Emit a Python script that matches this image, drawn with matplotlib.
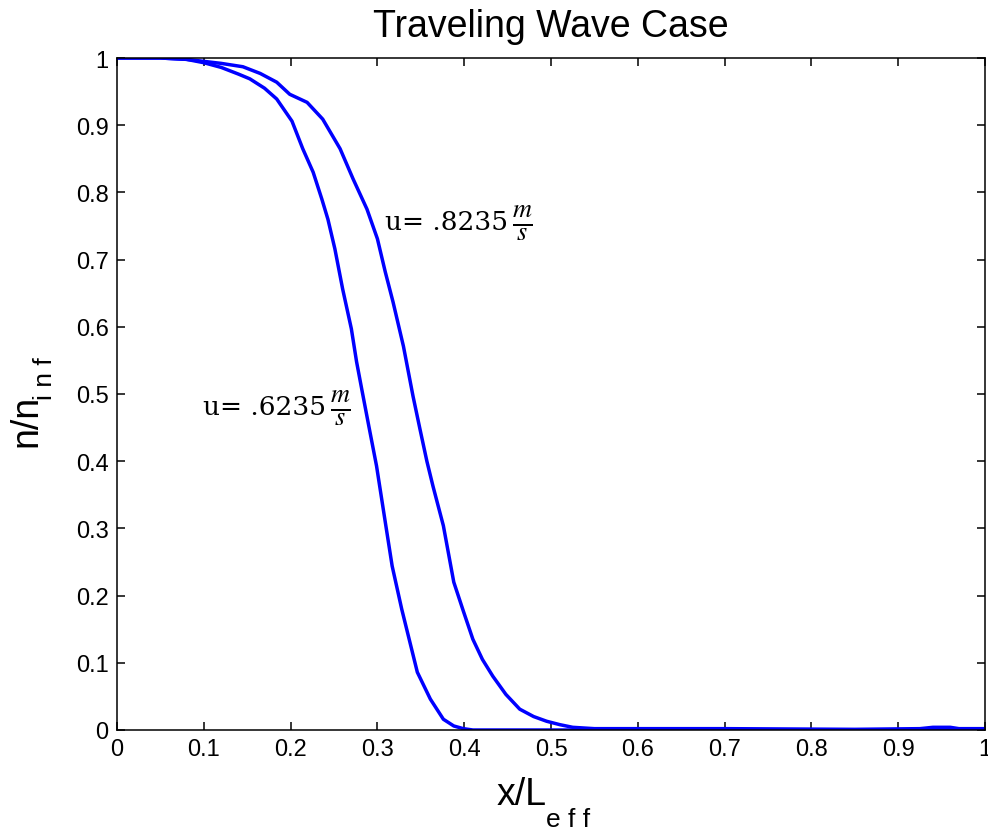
import matplotlib
matplotlib.use('Agg')
import matplotlib.pyplot as plt
from matplotlib.ticker import FuncFormatter, MultipleLocator

plt.rcParams['font.family'] = 'Liberation Sans'
plt.rcParams['mathtext.fontset'] = 'stix'

# u = .6235 m/s (left curve)
x_slow = [0, 0.05, 0.08, 0.1, 0.12, 0.14, 0.153, 0.17, 0.184, 0.2016, 0.214, 0.226,
          0.236, 0.243, 0.251, 0.260, 0.270, 0.276, 0.282, 0.290, 0.299, 0.309, 0.317,
          0.328, 0.337, 0.346, 0.361, 0.376, 0.388, 0.399, 0.41, 0.5, 0.6, 0.7, 0.8,
          0.9, 1.0]
y_slow = [1, 1, 0.998, 0.993, 0.986, 0.976, 0.969, 0.955, 0.939, 0.906, 0.865, 0.830,
          0.790, 0.760, 0.716, 0.656, 0.597, 0.548, 0.507, 0.453, 0.393, 0.31, 0.244,
          0.180, 0.133, 0.086, 0.046, 0.016, 0.006, 0.002, 0.0, 0.0, 0.0, 0.0, 0.0,
          0.0, 0.0]

# u = .8235 m/s (right curve)
x_fast = [0, 0.05, 0.08, 0.1, 0.12, 0.145, 0.165, 0.184, 0.199, 0.219, 0.237, 0.257,
          0.272, 0.288, 0.300, 0.309, 0.318, 0.330, 0.341, 0.349, 0.357, 0.364, 0.376,
          0.388, 0.399, 0.410, 0.421, 0.433, 0.448, 0.464, 0.48, 0.495, 0.51, 0.525,
          0.55, 0.7, 0.85, 0.925, 0.94, 0.96, 0.97, 1.0]
y_fast = [1, 1, 0.998, 0.995, 0.992, 0.987, 0.977, 0.964, 0.946, 0.934, 0.909, 0.865,
          0.820, 0.775, 0.731, 0.682, 0.637, 0.571, 0.497, 0.448, 0.40, 0.363, 0.304,
          0.220, 0.177, 0.135, 0.105, 0.080, 0.053, 0.031, 0.02, 0.013, 0.008, 0.004,
          0.002, 0.002, 0.001, 0.002, 0.004, 0.004, 0.002, 0.002]

label_slow = 'u= .6235'
label_fast = 'u= .8235'
unit = r'$\frac{m}{s}$'

W, H = 988, 829
fig = plt.figure(figsize=(W / 100, H / 100), dpi=100)
ax = fig.add_axes([117 / W, 1 - 731 / H, (985 - 117) / W, (731 - 59) / H])

ax.plot(x_slow, y_slow, color='#0000ff', lw=2.5)
ax.plot(x_fast, y_fast, color='#0000ff', lw=2.5)

ax.set_xlim(0, 1)
ax.set_ylim(0, 1)
ax.xaxis.set_major_locator(MultipleLocator(0.1))
ax.yaxis.set_major_locator(MultipleLocator(0.1))
fmt = FuncFormatter(lambda v, p: '%g' % round(v, 2))
ax.xaxis.set_major_formatter(fmt)
ax.yaxis.set_major_formatter(fmt)
ax.tick_params(direction='in', length=6, width=1.1, top=True, right=True,
               labelsize=17, pad=6)
for s in ax.spines.values():
    s.set_linewidth(1.1)

# speed labels, the m/s fraction is drawn a bit larger next to the number
for lx, ly, lab in [(0.309, 0.756, label_fast), (0.099, 0.481, label_slow)]:
    t = ax.text(lx, ly, lab, family='DejaVu Serif', fontsize=19, va='center')
    ax.annotate(unit, xy=(1, 0.5), xycoords=t, xytext=(3, 0), textcoords='offset points',
                fontsize=27, va='center', ha='left')

# title and axis labels placed like the MATLAB figure
fig.text(551 / W, 1 - 37 / H, 'Traveling Wave Case', fontsize=27, ha='center', va='baseline')
fig.text(497 / W, 1 - 805 / H, 'x/L', fontsize=27, ha='left', va='baseline')
fig.text(546 / W, 1 - 827 / H, 'e f f', fontsize=19, ha='left', va='baseline')
fig.text(36 / W, 1 - 447 / H, 'n/n', fontsize=27, rotation=90, rotation_mode='anchor',
         ha='left', va='baseline')
fig.text(52 / W, 1 - 400 / H, 'i n f', fontsize=19, rotation=90, rotation_mode='anchor',
         ha='left', va='baseline')

fig.savefig('out.png', dpi=100)
